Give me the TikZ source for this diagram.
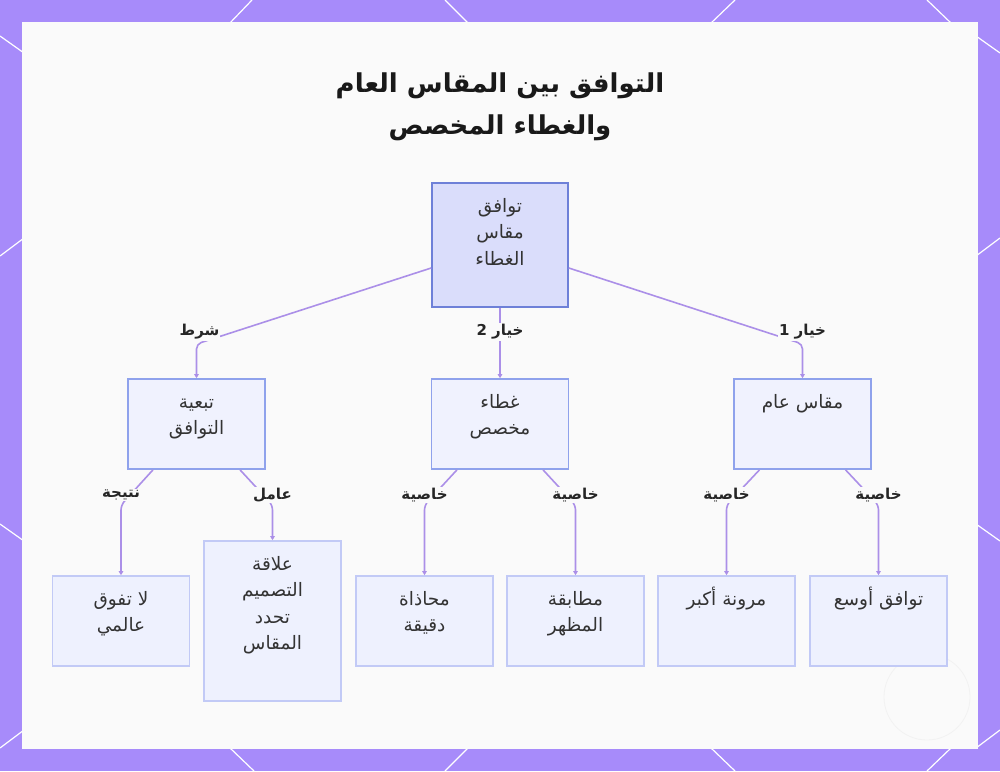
\documentclass[tikz,border=0pt]{standalone}
\usepackage{fontspec}
\usetikzlibrary{arrows.meta}
\newfontfamily\arabicfont[Script=Arabic]{DejaVu Sans}
\TeXXeTstate=1
\newcommand{\ar}[1]{\beginR\strut #1\endR}
\newcommand{\arl}[1]{\beginR #1\endR}
\definecolor{bgpurple}{HTML}{A78BFA}
\definecolor{panelwhite}{HTML}{FAFAFA}
\definecolor{rootfill}{HTML}{DADDFB}
\definecolor{rootline}{HTML}{6E80D8}
\definecolor{midfill}{HTML}{F0F2FE}
\definecolor{midline}{HTML}{8FA2EC}
\definecolor{leaffill}{HTML}{EEF1FE}
\definecolor{leafline}{HTML}{C2CAF6}
\definecolor{linkpurple}{HTML}{AB8FE8}
\definecolor{textgray}{HTML}{333333}
\tikzset{
  rootbox/.style={draw=rootline,fill=rootfill,line width=1.6pt,minimum width=136pt,minimum height=124pt,inner sep=0pt},
  midbox/.style={draw=midline,fill=midfill,line width=1.6pt,minimum width=137pt,minimum height=90pt,inner sep=0pt},
  leafbox/.style={draw=leafline,fill=leaffill,line width=1.6pt,minimum width=137pt,minimum height=90pt,inner sep=0pt},
  boxtext/.style={anchor=north,inner sep=0pt,align=center,text=textgray,font=\arabicfont\fontsize{18.5}{26.5}\selectfont},
  edgetext/.style={inner sep=1pt,fill=panelwhite,text=black!85,font=\arabicfont\bfseries\fontsize{15}{17}\selectfont},
  link/.style={draw=linkpurple,line width=1.6pt,rounded corners=5pt,-{Triangle[length=4pt,width=4.5pt]}}
}
\begin{document}
\begin{tikzpicture}[x=1pt,y=-1pt]
 \useasboundingbox (0,0) rectangle (1000,771);
 % frame
 \fill[bgpurple] (0,0) rectangle (1000,771);
 \draw[white,line width=1.2pt] (252,0)--(229,24) (445,0)--(469,24) (735,0)--(710,24) (927,0)--(952,24)
   (254,771)--(229,747) (445,771)--(469,747) (735,771)--(710,747) (927,771)--(952,747)
   (0,36)--(24,53) (0,256)--(24,238) (0,524)--(24,541) (0,748)--(24,730)
   (1000,53)--(976,36) (1000,238)--(976,256) (1000,541)--(976,524) (1000,730)--(976,748);
 \fill[panelwhite] (22,22) rectangle (978,749);
 \draw[gray!10,line width=.8pt] (927,697) circle (43);
 % title
 \node[align=center,text=black!90,font=\arabicfont\bfseries\fontsize{26}{42}\selectfont] (title) at (500,107)
   {\arl{التوافق بين المقاس العام}\\\arl{والغطاء المخصص}};
 % boxes
 \node[rootbox] (root) at (500,245) {};
 \node[midbox] (cond) at (196.5,424) {};
 \node[midbox] (custom) at (500,424) {};
 \node[midbox] (general) at (802.5,424) {};
 \node[leafbox] (noexcel) at (121,621) {};
 \node[leafbox,minimum height=160pt] (design) at (272.5,621) {};
 \node[leafbox] (align) at (424.5,621) {};
 \node[leafbox] (match) at (575.5,621) {};
 \node[leafbox] (flex) at (726.5,621) {};
 \node[leafbox] (wide) at (878.5,621) {};
 \node[boxtext] at ([yshift=-11.5pt]root.north) {\ar{توافق}\\\ar{مقاس}\\\ar{الغطاء}};
 \node[boxtext] at ([yshift=-11.5pt]cond.north) {\ar{تبعية}\\\ar{التوافق}};
 \node[boxtext] at ([yshift=-11.5pt]custom.north) {\ar{غطاء}\\\ar{مخصص}};
 \node[boxtext] at ([yshift=-11.5pt]general.north) {\ar{مقاس عام}};
 \node[boxtext] at ([yshift=-11.5pt]noexcel.north) {\ar{لا تفوق}\\\ar{عالمي}};
 \node[boxtext] at ([yshift=-11.5pt]design.north) {\ar{علاقة}\\\ar{التصميم}\\\ar{تحدد}\\\ar{المقاس}};
 \node[boxtext] at ([yshift=-11.5pt]align.north) {\ar{محاذاة}\\\ar{دقيقة}};
 \node[boxtext] at ([yshift=-11.5pt]match.north) {\ar{مطابقة}\\\ar{المظهر}};
 \node[boxtext] at ([yshift=-11.5pt]flex.north) {\ar{مرونة أكبر}};
 \node[boxtext] at ([yshift=-11.5pt]wide.north) {\ar{توافق أوسع}};
 % links from the root
 \draw[link] ([yshift=-23pt]root.west) -- (cond.north |- 0,344) -- (cond.north);
 \draw[link] (root.south) -- (custom.north);
 \draw[link] ([yshift=-23pt]root.east) -- (general.north |- 0,344) -- (general.north);
 \node[edgetext] (l1) at ([xshift=3pt]cond.north |- 0,332) {\arl{شرط}};
 \node[edgetext] (l2) at (custom.north |- 0,332) {\arl{خيار 2}};
 \node[edgetext] (l3) at (general.north |- 0,332) {\arl{خيار 1}};
 % links to the leaves
 \foreach \p/\c/\s/\t in {cond/noexcel/-43.5/نتيجة,cond/design/43.5/عامل,custom/align/-43/خاصية,
   custom/match/43/خاصية,general/flex/-43/خاصية,general/wide/43/خاصية}{
   \draw[link] ([xshift=\s pt]\p.south) -- (\c.north |- 0,505) -- (\c.north);
   \node[edgetext] at (\c.north |- 0,495) {\arl{\t}};
 }
\end{tikzpicture}
\end{document}
